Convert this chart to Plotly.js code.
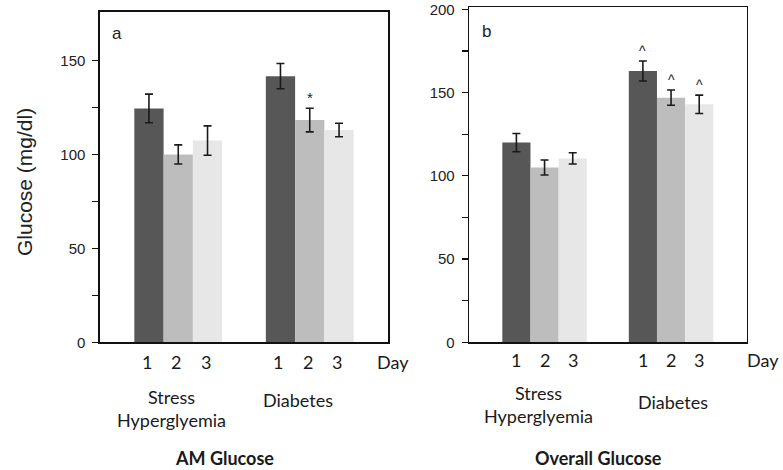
<!DOCTYPE html>
<html>
<head>
<meta charset="utf-8">
<script src="https://cdn.plot.ly/plotly-3.0.1.min.js"></script>
<style>html,body{margin:0;padding:0;background:#fff;}#chart{width:783px;height:470px;}</style>
</head>
<body>
<div id="chart"></div>
<script>
// ---- data ----
const groups = ["Stress Hyperglyemia", "Diabetes"];
const groupLabels = ["Stress<br>Hyperglyemia", "Diabetes"];
const days = ["1", "2", "3"];

// AM Glucose (panel a)
const amDay1 = [124.5, 141.7];
const amDay1Err = [7.6, 6.7];
const amDay2 = [100, 118.3];
const amDay2Err = [5.1, 6.3];
const amDay3 = [107.4, 113];
const amDay3Err = [7.8, 3.6];
const amMarks1 = ["", ""];
const amMarks2 = ["", "*"];
const amMarks3 = ["", ""];

// Overall Glucose (panel b)
const ovDay1 = [120, 163];
const ovDay1Err = [5.5, 6];
const ovDay2 = [105, 147];
const ovDay2Err = [4.5, 4.6];
const ovDay3 = [110.5, 143];
const ovDay3Err = [3.4, 5.5];
const ovMarks1 = ["", "^"];
const ovMarks2 = ["", "^"];
const ovMarks3 = ["", "^"];

const panelTitles = ["AM Glucose", "Overall Glucose"];
const panelLetters = ["a", "b"];
const yTitle = "Glucose (mg/dl)";
const xEndLabel = "Day";

// ---- style ----
const colors = ["#575757", "#bdbdbd", "#e7e7e7"];
const W = 783, H = 470;
const px = x => x / W;
const py = y => 1 - y / H;
const BARGAP = 0.332;
const labelFont = {family: "Lato, 'Open Sans', sans-serif", size: 18, color: "#1a1a1a"};

function barTraces(means, errs, xa, ya) {
  return means.map((m, i) => ({
    type: "bar",
    x: groups,
    y: m,
    name: "Day " + days[i],
    xaxis: xa, yaxis: ya,
    marker: {color: colors[i], line: {width: 0}},
    error_y: {type: "data", array: errs[i], visible: true, color: "#1a1a1a", thickness: 1.6, width: 4},
    showlegend: false,
    hoverinfo: "skip"
  }));
}

const amMeans = [amDay1, amDay2, amDay3];
const amErrs = [amDay1Err, amDay2Err, amDay3Err];
const ovMeans = [ovDay1, ovDay2, ovDay3];
const ovErrs = [ovDay1Err, ovDay2Err, ovDay3Err];

const data = [
  ...barTraces(amMeans, amErrs, "x", "y"),
  ...barTraces(ovMeans, ovErrs, "x2", "y2")
];

const annotations = [];
const barUnit = (1 - BARGAP) / 3;

function note(o) {
  annotations.push(Object.assign({showarrow: false, xanchor: "center", yanchor: "middle", align: "center"}, o));
}

function addMarks(marks, means, errs, xref, yref, size) {
  marks.forEach((row, d) => {
    row.forEach((t, g) => {
      if (!t) return;
      note({
        xref: xref, yref: yref,
        x: g + (d - 1) * barUnit,
        y: means[d][g] + errs[d][g],
        text: t, yanchor: "bottom",
        font: {family: "Liberation Sans, Arial, sans-serif", size: size, color: "#222"}
      });
    });
  });
}
addMarks([amMarks1, amMarks2, amMarks3], amMeans, amErrs, "x", "y", 15);
addMarks([ovMarks1, ovMarks2, ovMarks3], ovMeans, ovErrs, "x2", "y2", 14);

// day numbers under each bar
function addDayLabels(xref, yPix, shift) {
  groups.forEach((g, gi) => {
    days.forEach((d, di) => {
      note({
        xref: xref, yref: "paper",
        x: gi + (di - 1) * barUnit, y: py(yPix), xshift: shift,
        text: d, font: labelFont
      });
    });
  });
}
addDayLabels("x", 362, -2);
addDayLabels("x2", 360, 0);

// Day labels at axis end
note({xref: "paper", yref: "paper", x: px(393), y: py(362), text: xEndLabel, font: labelFont});
note({xref: "paper", yref: "paper", x: px(763), y: py(360), text: xEndLabel, font: labelFont});

// group names
note({xref: "paper", yref: "paper", x: px(171), y: py(408), text: groupLabels[0], font: labelFont});
note({xref: "paper", yref: "paper", x: px(298), y: py(400), text: groupLabels[1], font: labelFont});
note({xref: "paper", yref: "paper", x: px(538), y: py(404.5), text: groupLabels[0], font: labelFont});
note({xref: "paper", yref: "paper", x: px(673), y: py(402), text: groupLabels[1], font: labelFont});

// panel titles
note({xref: "paper", yref: "paper", x: px(224), y: py(458), text: "<b>" + panelTitles[0] + "</b>", font: labelFont});
note({xref: "paper", yref: "paper", x: px(598), y: py(458), text: "<b>" + panelTitles[1] + "</b>", font: labelFont});

// panel letters
note({xref: "paper", yref: "paper", x: px(117), y: py(33), text: panelLetters[0], font: {family: "Liberation Sans, Arial, sans-serif", size: 17, color: "#222"}});
note({xref: "paper", yref: "paper", x: px(487), y: py(32), text: panelLetters[1], font: {family: "Liberation Sans, Arial, sans-serif", size: 17, color: "#222"}});

// y title
note({xref: "paper", yref: "paper", x: px(24), y: py(182), text: yTitle, textangle: -90, font: {family: "Liberation Sans, Arial, sans-serif", size: 21, color: "#222"}});

const axisLine = {showline: true, mirror: true, linecolor: "#111", linewidth: 1.6, showgrid: false, zeroline: false};
const yTickFont = {family: "Liberation Sans, Arial, sans-serif", size: 15, color: "#222"};

const layout = {
  width: W, height: H,
  margin: {l: 0, r: 0, t: 0, b: 0},
  paper_bgcolor: "#fff", plot_bgcolor: "#fff",
  barmode: "group", bargap: BARGAP, bargroupgap: 0,
  showlegend: false,
  xaxis: Object.assign({}, axisLine, {domain: [px(100), px(388)], range: [-0.595, 1.595], anchor: "y", showticklabels: false, ticks: "", type: "category"}),
  yaxis: Object.assign({}, axisLine, {domain: [py(342.3), py(11.7)], range: [0, 176], anchor: "x",
    tickvals: [0, 50, 100, 150], ticks: "outside", ticklen: 6, tickwidth: 1.2, tickcolor: "#111",
    minor: {tickvals: [25, 75, 125], ticks: "outside", ticklen: 6, tickwidth: 1.2, tickcolor: "#111"},
    tickfont: yTickFont, ticklabelstandoff: 4}),
  xaxis2: Object.assign({}, axisLine, {domain: [px(469.3), px(746.7)], range: [-0.595, 1.598], anchor: "y2", showticklabels: false, ticks: "", type: "category"}),
  yaxis2: Object.assign({}, axisLine, {domain: [py(342.3), py(7.3)], range: [0, 201.3], anchor: "x2",
    tickvals: [0, 50, 100, 150, 200], ticks: "outside", ticklen: 6, tickwidth: 1.2, tickcolor: "#111",
    minor: {tickvals: [25, 75, 125, 175], ticks: "outside", ticklen: 6, tickwidth: 1.2, tickcolor: "#111"},
    tickfont: yTickFont, ticklabelstandoff: 4}),
  annotations: annotations
};

Plotly.newPlot("chart", data, layout, {displayModeBar: false, staticPlot: true});
</script>
</body>
</html>
